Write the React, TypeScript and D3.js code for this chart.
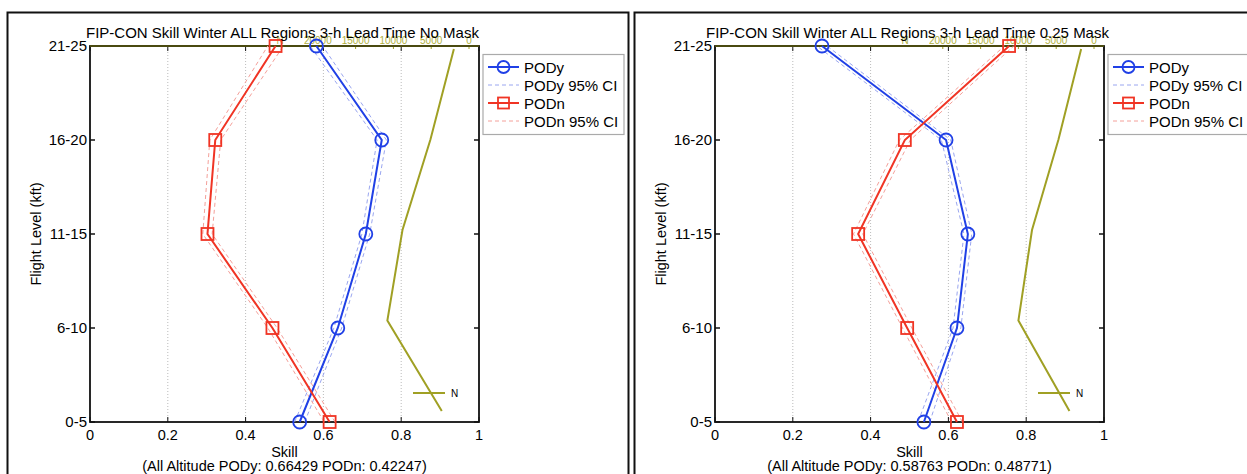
import React, { useEffect, useRef } from 'react';
import * as d3 from 'd3';

// flight levels, bottom to top
const levels = ['0-5', '6-10', '11-15', '16-20', '21-25'];
const skillTicks = [0, 0.2, 0.4, 0.6, 0.8, 1];
const nTicks = [0, 5000, 10000, 15000, 20000];

// left panel: No Mask
const podyNoMask = [0.539, 0.637, 0.709, 0.75, 0.582];
const podyNoMaskLo = [0.526, 0.627, 0.699, 0.738, 0.566];
const podyNoMaskHi = [0.552, 0.647, 0.719, 0.762, 0.598];
const podnNoMask = [0.616, 0.469, 0.302, 0.322, 0.477];
const podnNoMaskLo = [0.602, 0.457, 0.29, 0.308, 0.457];
const podnNoMaskHi = [0.63, 0.481, 0.314, 0.336, 0.497];
const nNoMask = [3600, 10800, 8800, 5100, 2000];

// right panel: 0.25 Mask
const podyMask = [0.537, 0.622, 0.65, 0.594, 0.275];
const podyMaskLo = [0.522, 0.612, 0.64, 0.582, 0.262];
const podyMaskHi = [0.552, 0.632, 0.66, 0.606, 0.288];
const podnMask = [0.622, 0.494, 0.368, 0.488, 0.756];
const podnMaskLo = [0.608, 0.482, 0.356, 0.474, 0.744];
const podnMaskHi = [0.636, 0.506, 0.38, 0.502, 0.768];
const nMask = [3250, 10000, 8200, 4700, 1700];

const BLUE = '#2040e6';
const RED = '#f03424';
const BLUE_CI = '#9aa6f0';
const RED_CI = '#f4a09a';
const OLIVE = '#a0a024';
const FONT = 'Liberation Sans, Arial, sans-serif';

const panels = [
  {
    left: 90, frameX: 7.5, frameW: 621,
    title: 'FIP-CON Skill Winter ALL Regions 3-h Lead Time No Mask',
    summary: '(All Altitude PODy: 0.66429 PODn: 0.42247)',
    pody: podyNoMask, podyLo: podyNoMaskLo, podyHi: podyNoMaskHi,
    podn: podnNoMask, podnLo: podnNoMaskLo, podnHi: podnNoMaskHi,
    n: nNoMask,
  },
  {
    left: 715, frameX: 634.5, frameW: 700,
    title: 'FIP-CON Skill Winter ALL Regions 3-h Lead Time 0.25 Mask',
    summary: '(All Altitude PODy: 0.58763 PODn: 0.48771)',
    pody: podyMask, podyLo: podyMaskLo, podyHi: podyMaskHi,
    podn: podnMask, podnLo: podnMaskLo, podnHi: podnMaskHi,
    n: nMask,
  },
];

const drawPanel = (svg, p) => {
  const width = 389;
  const top = 46;
  const bottom = 422;
  const x0 = p.left;
  const x1 = p.left + width;
  const cx = (x0 + x1) / 2;

  const g = svg.append('g').style('font-family', FONT);

  // figure frame
  g.append('rect')
    .attr('x', p.frameX).attr('y', 12.5)
    .attr('width', p.frameW).attr('height', 520)
    .attr('fill', 'white').attr('stroke', '#111').attr('stroke-width', 2);

  const x = d3.scaleLinear().domain([0, 1]).range([x0, x1]);
  const y = d3.scalePoint().domain(levels).range([bottom, top]);
  // N axes sits on its own scales
  const xn = d3.scaleLinear().domain([0, 25000]).range([x0 + 379, x0 + 190]);
  const yn = d3.scalePoint().domain(levels).range([411, 49]);

  // grid
  g.selectAll('.grid')
    .data(skillTicks.slice(1, -1))
    .join('line')
    .attr('x1', (d) => x(d)).attr('x2', (d) => x(d))
    .attr('y1', top).attr('y2', bottom)
    .attr('stroke', '#aaa').attr('stroke-width', 0.8)
    .attr('stroke-dasharray', '1,2');

  // ticks (inward, mirrored)
  skillTicks.forEach((t) => {
    g.append('line').attr('x1', x(t)).attr('x2', x(t)).attr('y1', bottom).attr('y2', bottom - 5).attr('stroke', '#111');
    g.append('line').attr('x1', x(t)).attr('x2', x(t)).attr('y1', top).attr('y2', top + 5).attr('stroke', '#111');
    g.append('text')
      .attr('x', x(t)).attr('y', 440)
      .attr('text-anchor', 'middle')
      .attr('font-size', 14.5)
      .text(d3.format('~g')(t));
  });
  levels.forEach((l) => {
    g.append('line').attr('x1', x0).attr('x2', x0 + 5).attr('y1', y(l)).attr('y2', y(l)).attr('stroke', '#111').attr('stroke-width', 1.5);
    g.append('line').attr('x1', x1).attr('x2', x1 - 5).attr('y1', y(l)).attr('y2', y(l)).attr('stroke', '#111').attr('stroke-width', 1.5);
    g.append('text')
      .attr('x', x0 - 3).attr('y', y(l) + 5)
      .attr('text-anchor', 'end')
      .attr('font-size', 15)
      .text(l);
  });

  // N axis labels on top
  nTicks.forEach((t) => {
    g.append('line').attr('x1', xn(t)).attr('x2', xn(t)).attr('y1', top).attr('y2', top + 3).attr('stroke', OLIVE);
    g.append('text')
      .attr('x', xn(t)).attr('y', 44)
      .attr('text-anchor', 'middle')
      .attr('font-size', 10)
      .attr('fill', '#b0b040')
      .text(t);
  });
  g.append('text')
    .attr('x', xn(25000)).attr('y', 44)
    .attr('text-anchor', 'middle')
    .attr('font-size', 10)
    .attr('fill', '#b0b040')
    .text('N');

  // box
  g.append('rect')
    .attr('x', x0).attr('y', top)
    .attr('width', width).attr('height', bottom - top)
    .attr('fill', 'none').attr('stroke', '#111').attr('stroke-width', 1.8);
  g.append('line').attr('x1', x0).attr('x2', x1).attr('y1', top).attr('y2', top)
    .attr('stroke', '#4a4a10').attr('stroke-width', 1.8);

  const line = (vals) => d3.line()
    .x((d) => x(d))
    .y((d, i) => y(levels[i]))(vals);

  // N line
  const nLine = d3.line()
    .x((d) => xn(d))
    .y((d, i) => yn(levels[i]));
  g.append('path').attr('d', nLine(p.n)).attr('fill', 'none').attr('stroke', OLIVE).attr('stroke-width', 2);
  g.append('line').attr('x1', x0 + 323).attr('x2', x0 + 355).attr('y1', 393).attr('y2', 393).attr('stroke', OLIVE).attr('stroke-width', 2);
  g.append('text').attr('x', x0 + 361).attr('y', 397).attr('font-size', 10).text('N');

  // CI lines
  [p.podyLo, p.podyHi].forEach((v) => {
    g.append('path').attr('d', line(v)).attr('fill', 'none').attr('stroke', BLUE_CI).attr('stroke-width', 1).attr('stroke-dasharray', '4,3');
  });
  [p.podnLo, p.podnHi].forEach((v) => {
    g.append('path').attr('d', line(v)).attr('fill', 'none').attr('stroke', RED_CI).attr('stroke-width', 1).attr('stroke-dasharray', '4,3');
  });

  g.append('path').attr('d', line(p.pody)).attr('fill', 'none').attr('stroke', BLUE).attr('stroke-width', 2);
  g.append('path').attr('d', line(p.podn)).attr('fill', 'none').attr('stroke', RED).attr('stroke-width', 2);

  g.selectAll('.podyMark')
    .data(p.pody)
    .join('circle')
    .attr('cx', (d) => x(d))
    .attr('cy', (d, i) => y(levels[i]))
    .attr('r', 6.5)
    .attr('fill', 'none').attr('stroke', BLUE).attr('stroke-width', 1.8);
  g.selectAll('.podnMark')
    .data(p.podn)
    .join('rect')
    .attr('x', (d) => x(d) - 6)
    .attr('y', (d, i) => y(levels[i]) - 6)
    .attr('width', 12).attr('height', 12)
    .attr('fill', 'none').attr('stroke', RED).attr('stroke-width', 1.8);

  // titles
  g.append('text').attr('x', cx - 2).attr('y', 38).attr('text-anchor', 'middle').attr('font-size', 15).text(p.title);
  g.append('text').attr('x', cx).attr('y', 457).attr('text-anchor', 'middle').attr('font-size', 14.5).text('Skill');
  g.append('text').attr('x', cx).attr('y', 471).attr('text-anchor', 'middle').attr('font-size', 14.5).text(p.summary);
  g.append('text')
    .attr('transform', `translate(${x0 - 49},${(top + bottom) / 2}) rotate(-90)`)
    .attr('text-anchor', 'middle')
    .attr('font-size', 14.5)
    .text('Flight Level (kft)');

  // legend
  const lx = x1 + 4;
  g.append('rect')
    .attr('x', lx).attr('y', 54.5)
    .attr('width', 141).attr('height', 80)
    .attr('fill', 'white').attr('stroke', '#aaa').attr('stroke-width', 1.2);
  const entries = [
    { label: 'PODy', color: BLUE, dash: null, mark: 'circle' },
    { label: 'PODy 95% CI', color: BLUE_CI, dash: '4,3', mark: null },
    { label: 'PODn', color: RED, dash: null, mark: 'square' },
    { label: 'PODn 95% CI', color: RED_CI, dash: '4,3', mark: null },
  ];
  entries.forEach((e, i) => {
    const ly = 67 + i * 18;
    g.append('line')
      .attr('x1', lx + 5).attr('x2', lx + 36).attr('y1', ly).attr('y2', ly)
      .attr('stroke', e.color).attr('stroke-width', e.dash ? 1 : 2)
      .attr('stroke-dasharray', e.dash);
    if (e.mark === 'circle') {
      g.append('circle').attr('cx', lx + 20.5).attr('cy', ly).attr('r', 6).attr('fill', 'none').attr('stroke', e.color).attr('stroke-width', 1.8);
    } else if (e.mark === 'square') {
      g.append('rect').attr('x', lx + 15).attr('y', ly - 5.5).attr('width', 11).attr('height', 11).attr('fill', 'none').attr('stroke', e.color).attr('stroke-width', 1.8);
    }
    g.append('text').attr('x', lx + 41).attr('y', ly + 5.5).attr('font-size', 15).text(e.label);
  });
};

const App = () => {
  const svgRef = useRef();

  useEffect(() => {
    const svg = d3.select(svgRef.current);
    svg.selectAll('*').remove();
    svg.append('rect').attr('width', 1247).attr('height', 474).attr('fill', 'white');
    panels.forEach((p) => drawPanel(svg, p));
  }, []);

  return (
    <svg
      ref={svgRef}
      width={1247}
      height={474}
      style={{ position: 'absolute', left: 0, top: 0 }}
    />
  );
};

export default App;
